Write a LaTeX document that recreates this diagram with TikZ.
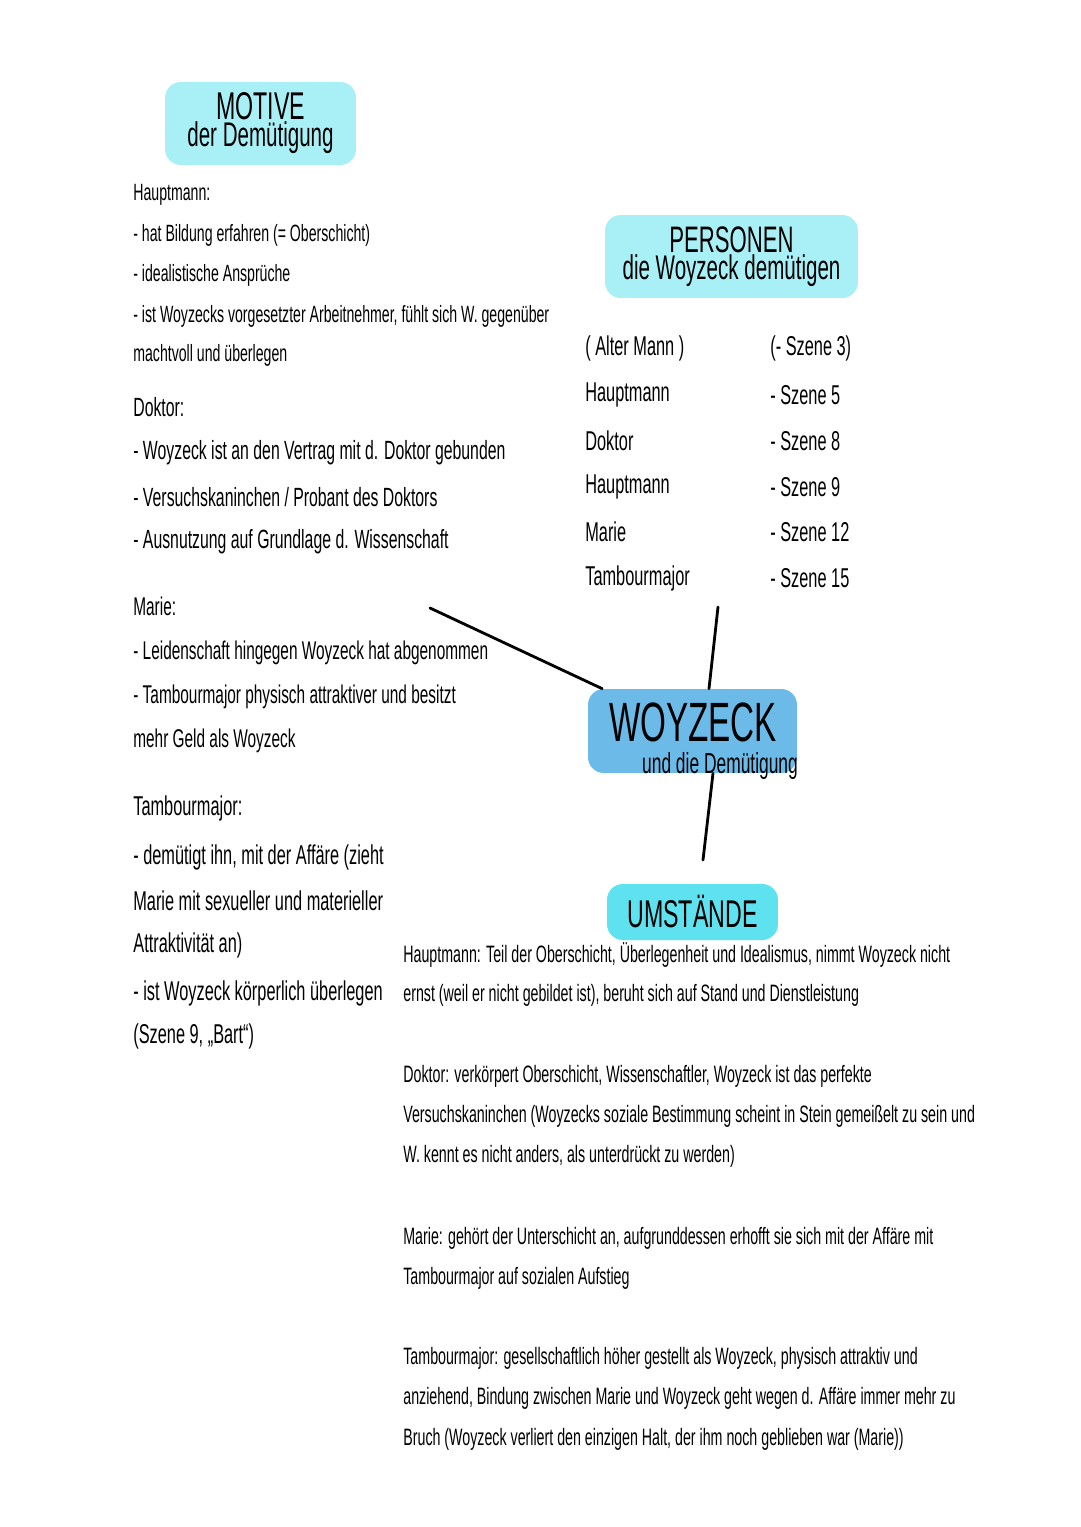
\documentclass[tikz,border=0pt]{standalone}
\usepackage{fontspec}
\setmainfont[FakeStretch=0.6]{Liberation Sans}
\usetikzlibrary{calc}
\definecolor{mint}{HTML}{A9F0F6}
\definecolor{woyblue}{HTML}{6CBAE8}
\definecolor{umcyan}{HTML}{5FE2EF}

\begin{document}
\begin{tikzpicture}[
  x=0.02cm, y=-0.02cm,
  box/.style={fill=#1, rounded corners=9pt, inner sep=0pt, align=center},
  body/.style={anchor=west, inner sep=0pt, font=\fontsize{#1}{#1}\selectfont},
  body/.default=13.5,
  cell/.style={body=15.5},
  link/.style={line width=1.6pt, line cap=round}
]
\fill[white] (0,0) rectangle (1080,1527);
\useasboundingbox (0,0) rectangle (1080,1527);

\node[box=mint, minimum width=3.82cm, minimum height=1.66cm] (t-motive) at (260.5,123.5)
  {\fontsize{22}{15}\selectfont MOTIVE\\\fontsize{19.5}{15}\selectfont der Demütigung};
\node[box=mint, minimum width=5.06cm, minimum height=1.66cm] (t-pers) at (731.5,256.5)
  {\fontsize{21}{15}\selectfont PERSONEN\\\fontsize{19.5}{15}\selectfont die Woyzeck demütigen};
\node[box=woyblue, minimum width=4.18cm, minimum height=1.68cm] (woy) at (692.5,731) {};
\node[inner sep=0pt, font=\fontsize{31.5}{32}\selectfont] (woy-t) at (693,722) {WOYZECK};
\node[inner sep=0pt, font=\fontsize{16.5}{17}\selectfont] (woy-s) at (720,766) {und die Demütigung};
\node[box=umcyan, minimum width=3.42cm, minimum height=1.12cm, font=\fontsize{22}{22}\selectfont] (t-umst) at (692.5,912) {UMSTÄNDE};

\coordinate (m-left) at (430,608);
\coordinate (m-top)  at (718,607);
\coordinate (m-bot)  at (703,860);
\draw[link] (m-left) -- (woy);
\draw[link] (m-top) -- ($(woy.north)+(16.5,0)$);
\draw[link] ($(woy.south)+(20.5,0)$) -- (m-bot);

\node[body=13.4] (l-haupt)   at (133,195)  {Hauptmann:};
\node[body=13.4] (l-haupt-1) at (133,235)  {- hat Bildung erfahren (= Oberschicht)};
\node[body=13.4] (l-haupt-2) at (133,275)  {- idealistische Ansprüche};
\node[body=13.4] (l-haupt-3) at (133,316)  {- ist Woyzecks vorgesetzter Arbeitnehmer, fühlt sich W. gegenüber};
\node[body=13.4] (l-haupt-4) at (133,355)  {machtvoll und überlegen};

\node[body=15] (l-dok)   at (133,407)  {Doktor:};
\node[body=15] (l-dok-1) at (133,453)  {- Woyzeck ist an den Vertrag mit d. Doktor gebunden};
\node[body=15] (l-dok-2) at (133,497)  {- Versuchskaninchen / Probant des Doktors};
\node[body=15] (l-dok-3) at (133,542)  {- Ausnutzung auf Grundlage d. Wissenschaft};

\node[body=14.6] (l-marie)   at (133,606)  {Marie:};
\node[body=14.6] (l-marie-1) at (133,653)  {- Leidenschaft hingegen Woyzeck hat abgenommen};
\node[body=14.6] (l-marie-2) at (133,697)  {- Tambourmajor physisch attraktiver und besitzt};
\node[body=14.6] (l-marie-3) at (133,741)  {mehr Geld als Woyzeck};

\node[body=15.5] (l-tamb)   at (133,808)  {Tambourmajor:};
\node[body=15.5] (l-tamb-1) at (133,857)  {- demütigt ihn, mit der Affäre (zieht};
\node[body=15.5] (l-tamb-2) at (133,901)  {Marie mit sexueller und materieller};
\node[body=15.5] (l-tamb-3) at (133,945)  {Attraktivität an)};
\node[body=15.5] (l-tamb-4) at (133,993)  {- ist Woyzeck körperlich überlegen};
\node[body=15.5] (l-tamb-5) at (133,1036) {(Szene 9, „Bart“)};

\foreach \who/\sc/\yy [count=\i] in {{( Alter Mann )}/{(- Szene 3)}/348, Hauptmann/{- Szene 5}/395,
    Doktor/{- Szene 8}/441, Hauptmann/{- Szene 9}/487, Marie/{- Szene 12}/532, Tambourmajor/{- Szene 15}/578} {
  \node[cell] (p-name-\i)  at (585,\yy) {\who};
  \node[cell] (p-scene-\i) at (770,\yy) {\sc};
}

\node[body] (r-haupt-1) at (403,955)  {Hauptmann: Teil der Oberschicht, Überlegenheit und Idealismus, nimmt Woyzeck nicht};
\node[body] (r-haupt-2) at (403,995)  {ernst (weil er nicht gebildet ist), beruht sich auf Stand und Dienstleistung};
\node[body] (r-dok-1)   at (403,1076) {Doktor: verkörpert Oberschicht, Wissenschaftler, Woyzeck ist das perfekte};
\node[body] (r-dok-2)   at (403,1116) {Versuchskaninchen (Woyzecks soziale Bestimmung scheint in Stein gemeißelt zu sein und};
\node[body] (r-dok-3)   at (403,1156) {W. kennt es nicht anders, als unterdrückt zu werden)};
\node[body] (r-marie-1) at (403,1238) {Marie: gehört der Unterschicht an, aufgrunddessen erhofft sie sich mit der Affäre mit};
\node[body] (r-marie-2) at (403,1278) {Tambourmajor auf sozialen Aufstieg};
\node[body] (r-tamb-1)  at (403,1358) {Tambourmajor: gesellschaftlich höher gestellt als Woyzeck, physisch attraktiv und};
\node[body] (r-tamb-2)  at (403,1398) {anziehend, Bindung zwischen Marie und Woyzeck geht wegen d. Affäre immer mehr zu};
\node[body] (r-tamb-3)  at (403,1439) {Bruch (Woyzeck verliert den einzigen Halt, der ihm noch geblieben war (Marie))};

\end{tikzpicture}
\end{document}
